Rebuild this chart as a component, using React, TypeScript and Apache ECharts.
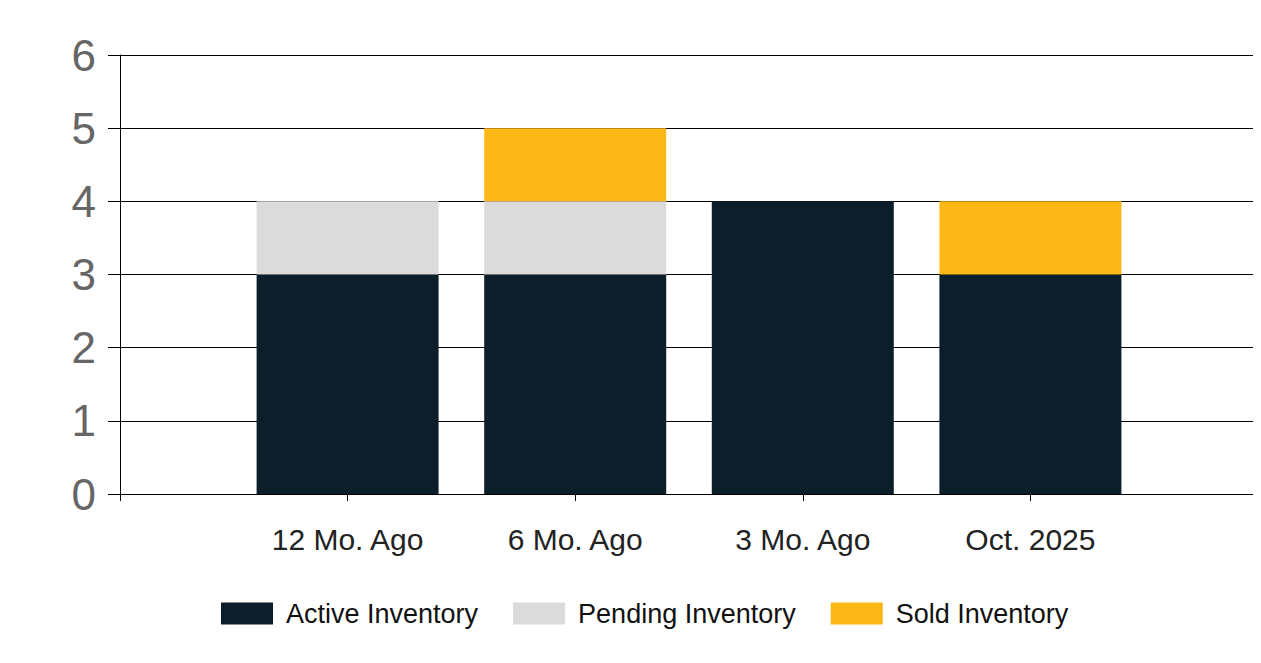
import React, { useEffect, useRef } from "react";
import * as echarts from "echarts";

const categories = ["", "12 Mo. Ago", "6 Mo. Ago", "3 Mo. Ago", "Oct. 2025", ""];
const activeInventory = ["-", 3, 3, 4, 3, "-"];
const pendingInventory = ["-", 1, 1, 0, 0, "-"];
const soldInventory = ["-", 0, 1, 0, 1, "-"];
const yTicks = { min: 0, max: 6, interval: 1 };

export default function App() {
  const ref = useRef<HTMLDivElement>(null);
  useEffect(() => {
    if (!ref.current) return;
    const chart = echarts.init(ref.current, undefined, { renderer: "svg" });
    const font = "Liberation Sans, Arial, sans-serif";
    const mk = (name: string, data: any[], color: string) => ({
      name,
      type: "bar",
      stack: "inv",
      data,
      barWidth: 182,
      itemStyle: { color },
    });
    chart.setOption({
      animation: false,
      backgroundColor: "#ffffff",
      grid: { left: 112, right: 3, top: 47, bottom: 169, containLabel: false },
      legend: {
        bottom: 31,
        left: 208,
        itemWidth: 52,
        itemHeight: 22,
        itemGap: 35,
        icon: "rect",
        textStyle: { fontFamily: font, fontSize: 27, color: "#111", padding: [0, 0, 0, 8] },
        data: ["Active Inventory", "Pending Inventory", "Sold Inventory"],
      },
      xAxis: {
        type: "category",
        data: categories,
        boundaryGap: false,
        axisLine: { lineStyle: { color: "#000", width: 1 } },
        axisTick: { show: true, length: 7, lineStyle: { color: "#000" } },
        axisLabel: { fontFamily: font, fontSize: 30, color: "#222", margin: 30, interval: 0 },
        splitLine: { show: false },
      },
      yAxis: {
        type: "value",
        min: yTicks.min,
        max: yTicks.max,
        interval: yTicks.interval,
        axisLine: { show: true, lineStyle: { color: "#000", width: 1 } },
        axisTick: { show: true, length: 12, lineStyle: { color: "#000" } },
        axisLabel: { fontFamily: font, fontSize: 44, color: "#666", margin: 24 },
        splitLine: { show: true, lineStyle: { color: "#000", width: 1 } },
      },
      series: [
        mk("Active Inventory", activeInventory, "#0b1e2a"),
        mk("Pending Inventory", pendingInventory, "#dbdbdb"),
        mk("Sold Inventory", soldInventory, "#fbb817"),
      ],
    });
    return () => chart.dispose();
  }, []);
  return <div ref={ref} style={{ width: 1253, height: 655 }} />;
}
